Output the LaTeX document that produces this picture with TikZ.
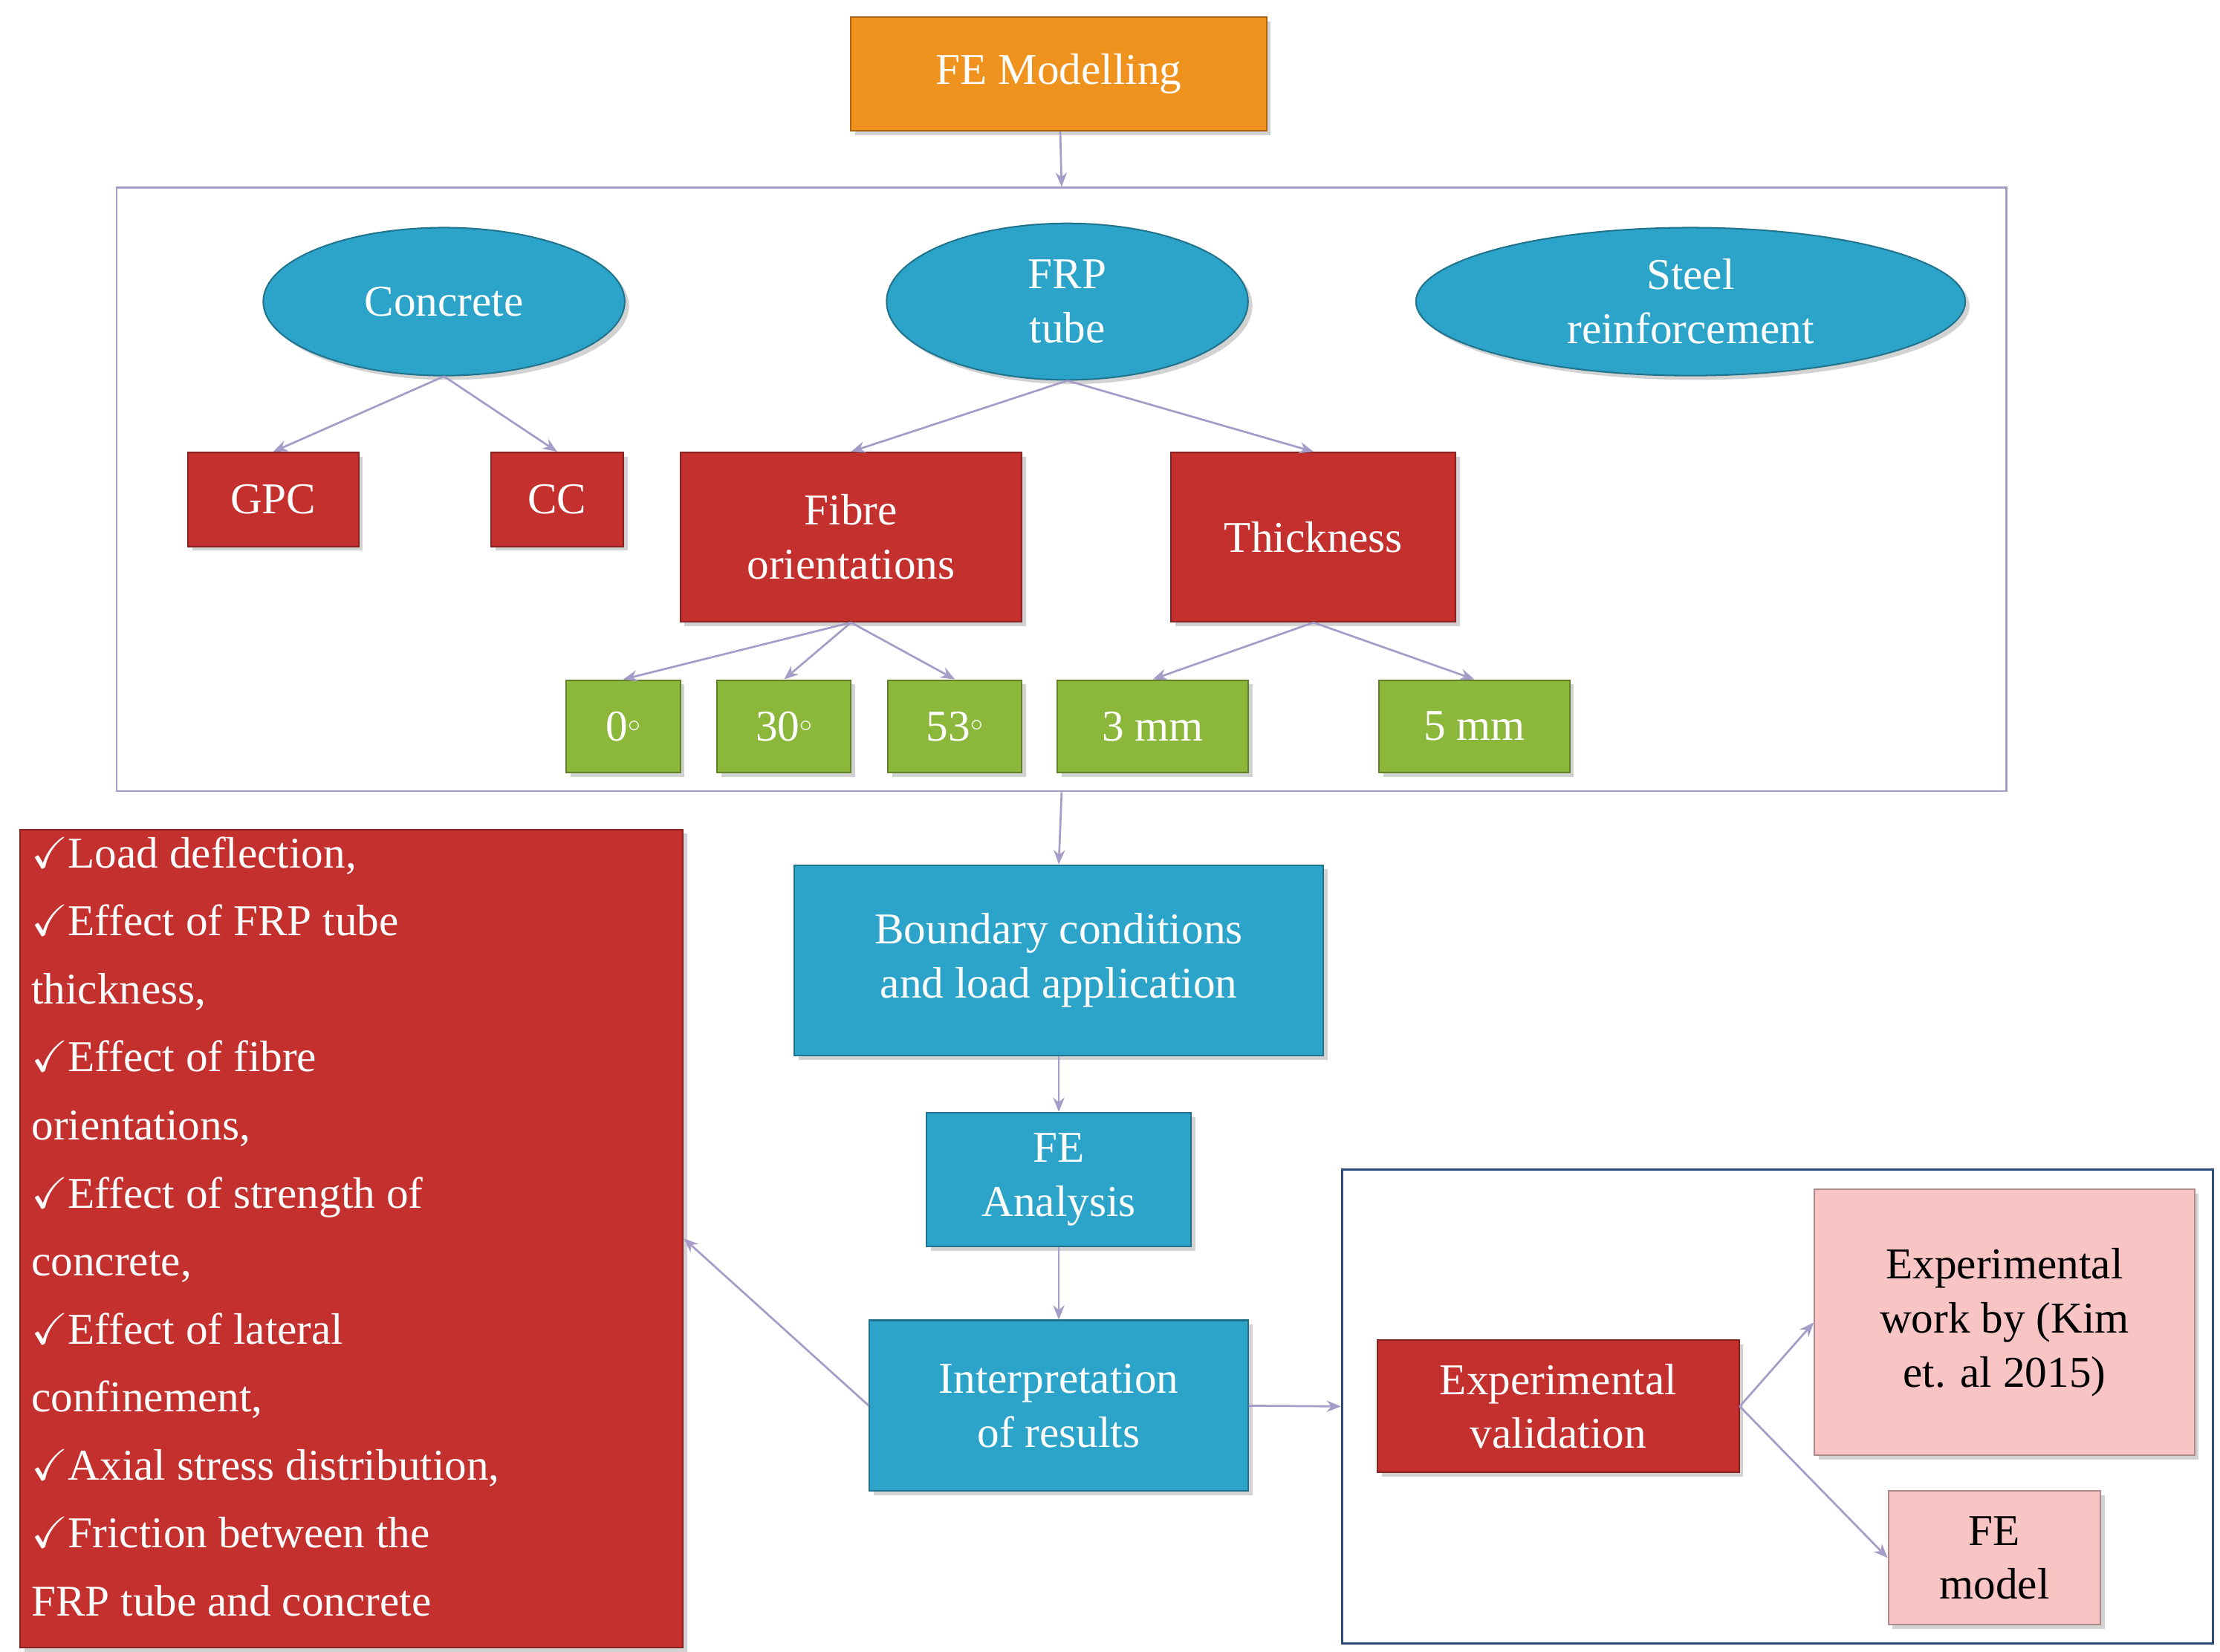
\documentclass[tikz,border=0pt]{standalone}
\usepackage{fontspec}
\setmainfont{Liberation Serif}
\usepackage{amssymb}
\usetikzlibrary{arrows.meta,shadows}
\definecolor{org}{HTML}{F0921E}
\definecolor{rd}{HTML}{C3302E}
\definecolor{gr}{HTML}{8BB83A}
\definecolor{bl}{HTML}{2CA4C9}
\definecolor{pk}{HTML}{F8C4C4}
\definecolor{lav}{HTML}{A59CC8}
\definecolor{nav}{HTML}{2E4C7A}
\newcommand\bx[7]{\pgfmathsetmacro\bw{(#5-#3)*0.5}\pgfmathsetmacro\bh{(#6-#4)*0.5}\node[#2,minimum width=\bw mm,minimum height=\bh mm] (#1) at ({(#3+#5)/2},{(#4+#6)/2}) {#7};}
\begin{document}
\begin{tikzpicture}[x=0.5mm,y=-0.5mm,
 every node/.style={font=\fontsize{44}{54}\selectfont,align=center,inner sep=0pt,text=white},
 base/.style={draw=#1!70!black,line width=1.5pt,fill=#1,drop shadow={opacity=0.35,shadow xshift=1.5mm,shadow yshift=-1.5mm}},
 ob/.style={base=org},rb/.style={base=rd},gb/.style={base=gr},bb/.style={base=bl},
 pb/.style={base=pk,text=black},
 el/.style={ellipse,base=bl},
 ar/.style={draw=lav,line width=2pt,-{Stealth[length=5mm,width=4mm]}}]
\useasboundingbox (0,0) rectangle (1560,1161);
\fill[white] (0,0) rectangle (1560,1161);
\usetikzlibrary{shapes.geometric}
\bx{fem}{ob}{598}{12}{890}{92}{FE Modelling}
\node[draw=lav,line width=2pt,minimum width=664mm,minimum height=212mm] (big) at (746,344) {};
\node[el,minimum width=127mm,minimum height=52mm] (con) at (312,212) {Concrete};
\node[el,minimum width=127mm,minimum height=55mm] (frp) at (750,212) {FRP\\tube};
\node[el,minimum width=193mm,minimum height=52mm] (st) at (1188,212) {Steel\\reinforcement};
\bx{gpc}{rb}{132}{318}{252}{384}{GPC}
\bx{cc}{rb}{345}{318}{438}{384}{CC}
\bx{fib}{rb}{478}{318}{718}{437}{Fibre\\orientations}
\bx{th}{rb}{823}{318}{1023}{437}{Thickness}
\bx{g0}{gb}{398}{478}{478}{543}{0$^{\circ}$}
\bx{g30}{gb}{504}{478}{598}{543}{30$^{\circ}$}
\bx{g53}{gb}{624}{478}{718}{543}{53$^{\circ}$}
\bx{g3}{gb}{743}{478}{877}{543}{3 mm}
\bx{g5}{gb}{969}{478}{1103}{543}{5 mm}
\bx{bc}{bb}{558}{608}{930}{742}{Boundary conditions\\and load application}
\bx{fea}{bb}{651}{782}{837}{876}{FE\\Analysis}
\bx{int}{bb}{611}{928}{877}{1048}{Interpretation\\of results}
\bx{lst}{rb}{14}{583}{480}{1158}{}
\node[anchor=north west,align=left,font=\fontsize{44}{68}\selectfont] at (22,588) {%
$\checkmark$Load deflection,\\
$\checkmark$Effect of FRP tube\\
thickness,\\
$\checkmark$Effect of fibre\\
orientations,\\
$\checkmark$Effect of strength of\\
concrete,\\
$\checkmark$Effect of lateral\\
confinement,\\
$\checkmark$Axial stress distribution,\\
$\checkmark$Friction between the\\
FRP tube and concrete};
\node[draw=nav,line width=2pt,minimum width=306mm,minimum height=166.5mm] (val) at (1249,988.5) {};
\bx{ev}{rb}{968}{942}{1222}{1035}{Experimental\\validation}
\bx{ew}{pb}{1275}{836}{1542}{1023}{Experimental\\work by (Kim\\et. al 2015)}
\bx{fm}{pb}{1327}{1048}{1476}{1142}{FE\\model}
\draw[ar] (fem) -- (big.north);
\draw[ar] (con.south) -- (gpc.north);
\draw[ar] (con.south) -- (cc.north);
\draw[ar] (frp.south) -- (fib.north);
\draw[ar] (frp.south) -- (th.north);
\draw[ar] (fib.south) -- (g0.north);
\draw[ar] (fib.south) -- (g30.north);
\draw[ar] (fib.south) -- (g53.north);
\draw[ar] (th.south) -- (g3.north);
\draw[ar] (th.south) -- (g5.north);
\draw[ar] (big.south) -- (bc.north);
\draw[ar] (bc) -- (fea);
\draw[ar] (fea) -- (int);
\draw[ar] (int.west) -- (lst.east);
\draw[ar] (int.east) -- (val.west);
\draw[ar] (ev.east) -- (ew.west);
\draw[ar] (ev.east) -- (fm.west);
\end{tikzpicture}
\end{document}
